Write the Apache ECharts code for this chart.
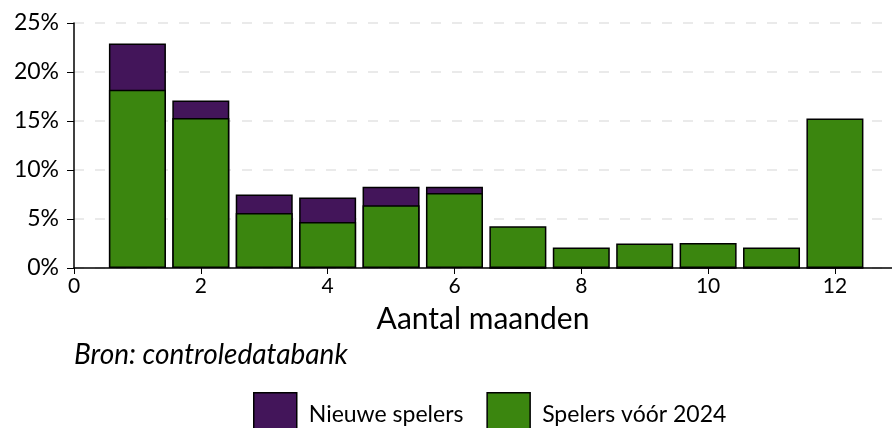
<!DOCTYPE html>
<html>
<head>
<meta charset="utf-8">
<script src="https://cdn.jsdelivr.net/npm/echarts@6/dist/echarts.min.js"></script>
<style>
  html, body { margin: 0; padding: 0; background: #fff; }
  #chart { width: 892px; height: 428px; }
</style>
</head>
<body>
<div id="chart"></div>
<script>
// aantal maanden gespeeld
const months = [1, 2, 3, 4, 5, 6, 7, 8, 9, 10, 11, 12];
const oldPlayers = [18.2, 15.3, 5.6, 4.7, 6.4, 7.65, 4.25, 2.1, 2.5, 2.55, 2.1, 15.25];
const newPlayers = [4.7, 1.8, 1.9, 2.5, 1.9, 0.65, 0, 0, 0, 0, 0, 0];
const xTicks = [0, 2, 4, 6, 8, 10, 12];

const FONT = 'Lato';

// purple bar sits on top of the green one: draw it to the total height behind the green bar
const totals = oldPlayers.map((v, i) => v + newPlayers[i]);

const chart = echarts.init(document.getElementById('chart'));

const option = {
  animation: false,
  textStyle: { fontFamily: FONT, color: '#000' },
  grid: { left: 74, right: 0, top: 23, bottom: 160 },
  legend: {
    left: 248,
    top: 387,
    itemWidth: 43,
    itemHeight: 43,
    itemGap: 23,
    icon: 'rect',
    data: ['Nieuwe spelers', 'Spelers vóór 2024'],
    textStyle: { fontFamily: FONT, fontSize: 23, color: '#000', padding: [0, 0, 0, 7] },
    itemStyle: { borderColor: '#000', borderWidth: 1.5 }
  },
  graphic: [
    {
      type: 'text',
      left: 74,
      top: 341,
      style: {
        text: 'Bron: controledatabank',
        font: 'italic 28px Lato',
        fill: '#000'
      }
    }
  ],
  xAxis: {
    type: 'value',
    min: 0,
    max: 12.9,
    interval: 2,
    name: 'Aantal maanden',
    nameLocation: 'middle',
    nameGap: 36,
    nameTextStyle: { fontSize: 30, color: '#000', fontFamily: FONT },
    axisLine: { show: true, lineStyle: { color: '#000', width: 1.5 } },
    axisTick: { show: true, length: 6, lineStyle: { color: '#000', width: 1 }, customValues: xTicks },
    axisLabel: { fontSize: 21, color: '#000', margin: 8, customValues: xTicks },
    splitLine: { show: false }
  },
  yAxis: {
    type: 'value',
    min: 0,
    max: 25,
    interval: 5,
    axisLine: { show: true, lineStyle: { color: '#000', width: 1.5 } },
    axisTick: { show: true, length: 7, lineStyle: { color: '#000', width: 1 } },
    axisLabel: { fontSize: 23, color: '#000', margin: 15, formatter: '{value}%' },
    splitLine: { show: true, lineStyle: { color: '#e3e3e3', type: [10, 11], width: 1.5 } }
  },
  series: [
    {
      name: 'Nieuwe spelers',
      type: 'bar',
      barWidth: 57,
      barGap: '-100%',
      z: 2,
      itemStyle: { color: '#43155a', borderColor: '#000', borderWidth: 1.5 },
      data: months.map((m, i) => [m, newPlayers[i] > 0 ? totals[i] : 0])
    },
    {
      name: 'Spelers vóór 2024',
      type: 'bar',
      barWidth: 57,
      barGap: '-100%',
      z: 3,
      itemStyle: { color: '#3b860f', borderColor: '#000', borderWidth: 1.5 },
      data: months.map((m, i) => [m, oldPlayers[i]])
    }
  ]
};

chart.setOption(option);
</script>
</body>
</html>
